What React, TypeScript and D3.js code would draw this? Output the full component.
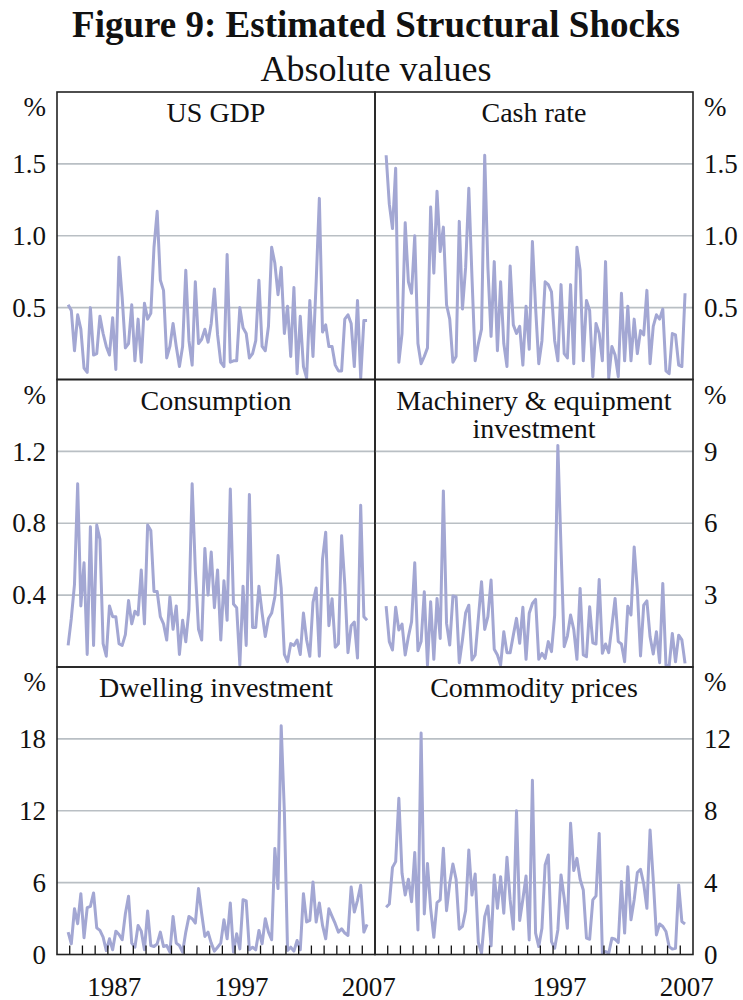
import * as d3 from 'd3'

// quarterly absolute shocks, 1983:Q4 - 2007:Q2
const startYear = 1983
const startQuarter = 4

const usGdp = [
  0.52, 0.48, 0.2, 0.45, 0.35, 0.08, 0.05, 0.5, 0.17, 0.18, 0.44, 0.32, 0.23, 0.17, 0.43, 0.07,
  0.85, 0.57, 0.22, 0.25, 0.52, 0.13, 0.42, 0.12, 0.53, 0.42, 0.46, 0.92, 1.17, 0.69, 0.62, 0.15,
  0.23, 0.39, 0.23, 0.09, 0.23, 0.76, 0.27, 0.1, 0.68, 0.25, 0.28, 0.35, 0.26, 0.39, 0.63, 0.31,
  0.12, 0.09, 0.87, 0.12, 0.13, 0.13, 0.5, 0.36, 0.32, 0.15, 0.18, 0.27, 0.69, 0.23, 0.2, 0.37,
  0.92, 0.81, 0.59, 0.78, 0.32, 0.51, 0.16, 0.64, 0.04, 0.44, 0.09, 0.01, 0.55, 0.16, 0.68, 1.26,
  0.33, 0.38, 0.23, 0.23, 0.1, 0.06, 0.06, 0.42, 0.45, 0.39, 0.09, 0.55, 0.01, 0.41, 0.41,
]
const cashRate = [
  1.56, 1.22, 1.05, 1.47, 0.12, 0.32, 1.09, 0.68, 0.6, 1.0, 0.25, 0.11, 0.16, 0.22, 1.2, 0.74,
  1.31, 0.89, 1.06, 0.52, 0.42, 0.12, 0.16, 1.1, 0.49, 0.78, 1.33, 0.71, 0.13, 0.25, 0.35, 1.56,
  0.78, 0.3, 0.82, 0.2, 0.68, 0.25, 0.09, 0.79, 0.38, 0.32, 0.37, 0.1, 0.51, 0.21, 0.96, 0.5,
  0.11, 0.27, 0.68, 0.66, 0.61, 0.27, 0.13, 0.66, 0.18, 0.15, 0.66, 0.11, 0.92, 0.76, 0.13, 0.55,
  0.48, 0.02, 0.39, 0.32, 0.13, 0.82, 0.01, 0.23, 0.17, 0.02, 0.6, 0.13, 0.51, 0.13, 0.42, 0.18,
  0.34, 0.31, 0.62, 0.11, 0.37, 0.45, 0.42, 0.49, 0.06, 0.04, 0.32, 0.31, 0.1, 0.09, 0.6,
]
const consumption = [
  0.12, 0.27, 0.46, 1.02, 0.34, 0.58, 0.07, 0.78, 0.12, 0.79, 0.71, 0.13, 0.06, 0.34, 0.28, 0.28,
  0.13, 0.12, 0.18, 0.37, 0.24, 0.31, 0.29, 0.54, 0.24, 0.79, 0.76, 0.42, 0.42, 0.28, 0.24, 0.15,
  0.39, 0.21, 0.34, 0.07, 0.26, 0.14, 0.32, 1.02, 0.54, 0.21, 0.15, 0.66, 0.4, 0.64, 0.33, 0.54,
  0.15, 0.48, 0.26, 0.99, 0.35, 0.33, 0.01, 0.45, 0.12, 0.96, 0.22, 0.22, 0.45, 0.3, 0.17, 0.27,
  0.3, 0.39, 0.62, 0.44, 0.07, 0.03, 0.13, 0.12, 0.15, 0.07, 0.3, 0.15, 0.06, 0.36, 0.44, 0.06,
  0.6, 0.75, 0.23, 0.38, 0.11, 0.13, 0.73, 0.46, 0.08, 0.23, 0.25, 0.05, 0.9, 0.28, 0.26,
]
const machinery = [
  2.54, 1.06, 0.71, 2.49, 1.54, 1.79, 0.5, 1.26, 1.89, 4.35, 0.68, 1.06, 3.14, 0.08, 2.72, 0.32,
  2.86, 1.19, 7.35, 1.82, 0.92, 2.96, 2.93, 0.18, 1.13, 2.26, 2.58, 0.29, 0.5, 2.03, 3.56, 1.57,
  2.1, 3.63, 0.74, 0.5, 0.08, 1.47, 0.6, 0.6, 1.33, 2.03, 0.99, 2.49, 0.32, 2.24, 2.65, 2.82,
  0.32, 0.57, 0.36, 1.06, 0.64, 2.17, 9.25, 4.94, 0.85, 1.29, 2.17, 1.57, 0.32, 3.28, 0.5, 0.43,
  2.51, 1.01, 0.96, 3.65, 0.57, 0.96, 0.6, 1.71, 2.86, 1.06, 0.96, 0.22, 2.54, 2.17, 5.01, 3.21,
  0.46, 2.58, 2.76, 1.26, 0.54, 1.47, 0.18, 3.49, 0.08, 0.04, 1.4, 0.22, 1.33, 1.13, 0.15,
]
const dwelling = [
  1.87, 0.89, 3.82, 2.57, 5.08, 1.4, 3.91, 4.02, 5.14, 2.23, 2.01, 1.45, 0.33, 1.31, 0.39, 1.95,
  1.67, 1.23, 3.4, 4.86, 0.95, 0.61, 2.43, 1.95, 0.39, 3.63, 0.75, 0.67, 0.89, 1.87, 0.67, 0.75,
  0.2, 3.18, 0.95, 0.75, 0.2, 1.87, 3.18, 2.99, 2.62, 5.5, 3.4, 1.51, 1.87, 0.95, 0.28, 0.61,
  0.95, 2.9, 1.31, 4.3, 0.2, 1.73, 0.47, 4.58, 4.47, 0.39, 0.61, 0.39, 2.01, 0.89, 2.99, 1.87,
  1.23, 8.85, 5.5, 19.09, 11.92, 0.33, 0.61, 0.28, 1.17, 0.39, 5.08, 2.71, 2.85, 6.06, 2.71, 4.3,
  2.43, 1.31, 3.82, 3.18, 2.57, 1.87, 2.15, 1.79, 1.59, 5.64, 3.54, 4.52, 5.78, 1.87, 2.51,
]
const commodity = [
  2.63, 2.81, 4.85, 5.17, 8.69, 4.52, 3.31, 4.19, 2.94, 5.67, 1.37, 12.33, 2.26, 5.07, 2.57, 0.96,
  2.89, 3.04, 5.91, 2.44, 3.96, 5.04, 4.19, 1.41, 1.56, 2.44, 5.81, 3.31, 4.48, 0.67, 0.07, 2.11,
  2.7, 0.48, 4.43, 2.57, 4.33, 2.3, 5.41, 3.04, 1.41, 8.0, 1.89, 3.07, 4.37, 0.81, 9.7, 1.19,
  0.44, 1.46, 4.98, 5.54, 0.72, 0.35, 1.37, 4.43, 3.13, 1.46, 7.3, 4.67, 5.35, 4.19, 3.59, 0.91,
  0.85, 3.04, 3.26, 6.74, 0.07, 0.17, 0.07, 0.91, 0.85, 0.67, 4.06, 1.19, 4.89, 1.93, 3.04, 4.56,
  4.74, 3.93, 2.57, 6.93, 4.15, 1.09, 1.7, 1.56, 1.28, 0.44, 0.3, 0.35, 3.87, 1.83, 1.7,
]

const titles = [
  ['US GDP'],
  ['Cash rate'],
  ['Consumption'],
  ['Machinery & equipment', 'investment'],
  ['Dwelling investment'],
  ['Commodity prices'],
]
const seriesList = [usGdp, cashRate, consumption, machinery, dwelling, commodity]
const yMaxes = [2, 2, 1.6, 12, 24, 16]
const yTicks = [
  [0.5, 1.0, 1.5],
  [0.5, 1.0, 1.5],
  [0.4, 0.8, 1.2],
  [3, 6, 9],
  [0, 6, 12, 18],
  [0, 4, 8, 12],
]
const yFormats = ['.1f', '.1f', '.1f', 'd', 'd', 'd']
const yearTicks = d3.range(1984, 2008)
const yearLabels = [
  [1987, 1997, 2007],
  [1997, 2007],
]

const W = 743
const H = 1000
const colX = [57, 375]
const panelW = 318
const rowY = [92, 379.5, 667]
const panelH = 287.5
const lineColor = '#a3a7d3'
const gridColor = '#b9bfc4'
const font = "'Liberation Serif', 'Times New Roman', serif"

const x = d3.scaleLinear().domain([1983, 2008]).range([0, panelW])
const dates = usGdp.map((_, i) => startYear + (startQuarter - 1) / 4 + 0.125 + i * 0.25)

function Panel({ idx }: { idx: number }) {
  const col = idx % 2
  const row = Math.floor(idx / 2)
  const y = d3.scaleLinear().domain([0, yMaxes[idx]]).range([panelH, 0])
  const line = d3
    .line<number>()
    .x((_, i) => x(dates[i]))
    .y((d) => y(d))
  const fmt = d3.format(yFormats[idx])
  const labelX = col === 0 ? -11 : panelW + 11
  const anchor = col === 0 ? 'end' : 'start'
  return (
    <g transform={`translate(${colX[col]},${rowY[row]})`}>
      {yTicks[idx]
        .filter((t) => t > 0)
        .map((t) => (
          <line key={t} x1={0} x2={panelW} y1={y(t)} y2={y(t)} stroke={gridColor} strokeWidth={1.6} />
        ))}
      <path d={line(seriesList[idx]) || ''} fill="none" stroke={lineColor} strokeWidth={3} strokeLinejoin="round" />
      {row === 2 &&
        yearTicks.map((yr) => (
          <line key={yr} x1={x(yr)} x2={x(yr)} y1={panelH} y2={panelH - 9} stroke="#111" strokeWidth={1.3} />
        ))}
      {row === 2 &&
        yearLabels[col].map((yr) => (
          <text key={yr} x={x(yr + 0.5)} y={panelH + 41} textAnchor="middle" fontSize={27} fill="#111">
            {yr}
          </text>
        ))}
      <rect x={0} y={0} width={panelW} height={panelH} fill="none" stroke="#222" strokeWidth={1.6} />
      {titles[idx].map((t, k) => (
        <text key={k} x={panelW / 2} y={30 + k * 28} textAnchor="middle" fontSize={28} fill="#111">
          {t}
        </text>
      ))}
      <text x={labelX} y={24} textAnchor={anchor} fontSize={27} fill="#111">
        %
      </text>
      {yTicks[idx].map((t) => (
        <text key={t} x={labelX} y={y(t)} dy="0.34em" textAnchor={anchor} fontSize={27} fill="#111">
          {fmt(t)}
        </text>
      ))}
    </g>
  )
}

export default function App() {
  return (
    <svg width={W} height={H} style={{ position: 'absolute', left: 0, top: 0, background: '#fff' }} fontFamily={font}>
      <rect width={W} height={H} fill="#fff" />
      <text x={376} y={37} textAnchor="middle" fontSize={37} fontWeight="bold" fill="#111">
        Figure 9: Estimated Structural Shocks
      </text>
      <text x={376} y={81} textAnchor="middle" fontSize={36} fill="#111">
        Absolute values
      </text>
      {seriesList.map((_, i) => (
        <Panel key={i} idx={i} />
      ))}
    </svg>
  )
}
